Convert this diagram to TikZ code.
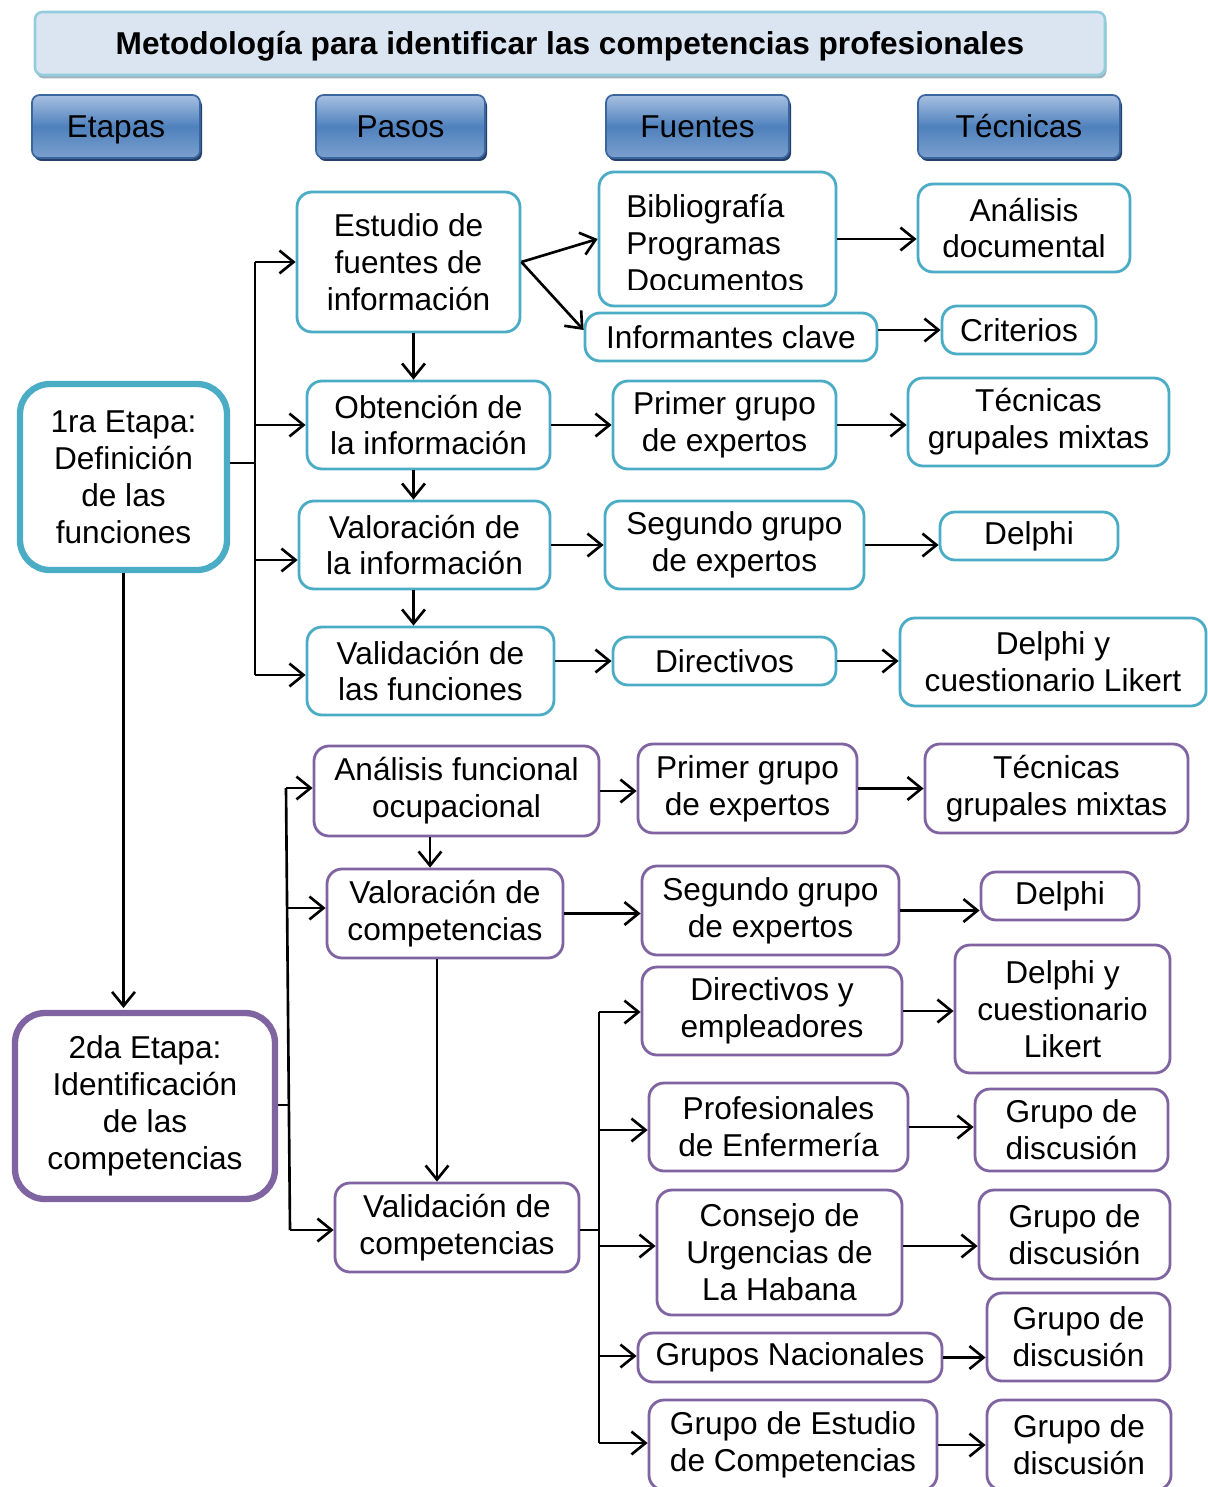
\documentclass[tikz,border=0pt]{standalone}
\usepackage{fontspec}
\setmainfont{Liberation Sans}
\usepackage{tikz}
\usetikzlibrary{arrows.meta,shadows}

\definecolor{cian}{HTML}{4BACC6}
\definecolor{morado}{HTML}{8064A2}
\definecolor{azulclaro}{HTML}{DBE5F1}
\definecolor{bordetitulo}{HTML}{93CDDD}
\definecolor{sombratitulo}{HTML}{9DB3BD}
\definecolor{azulboton}{HTML}{4F81BD}
\definecolor{azulbotonclaro}{HTML}{A7C0E0}
\definecolor{bordeboton}{HTML}{3A66A0}
\definecolor{sombraboton}{HTML}{25406A}

\begin{document}
\begin{tikzpicture}[x=0.02cm, y=-0.02cm,
    font=\fontsize{18}{21}\selectfont,
    tam/.style 2 args={minimum width=#1*0.02cm, minimum height=#2*0.02cm},
    caja/.style={draw=#1, line width=1.6pt, rounded corners=0.3cm, fill=white, align=center, inner sep=0pt},
    etapa/.style={caja=#1, line width=3.6pt, rounded corners=0.6cm},
    titulo/.style={draw=bordetitulo, line width=1.5pt, fill=azulclaro, rounded corners=0.15cm,
        text height=15pt, text depth=2.5pt,
        drop shadow={shadow xshift=0.03cm, shadow yshift=-0.07cm, fill=sombratitulo, opacity=1}},
    boton/.style={draw=bordeboton, line width=1pt, rounded corners=0.15cm,
        text height=15pt, text depth=2pt,
        top color=azulbotonclaro, bottom color=azulboton!75!white, middle color=azulboton,
        drop shadow={shadow xshift=0.04cm, shadow yshift=-0.06cm, fill=sombraboton, opacity=1}},
    linea/.style={line width=1.5pt},
    flecha/.style={linea, -{Straight Barb[length=8pt,width=13pt]}}]

    \useasboundingbox (0,0) rectangle (1207,1487);

    % Titulo y cabeceras
    \node[titulo, tam={1070}{63}] (tit) at (570,43.5) {\bfseries Metodología para identificar las competencias profesionales};
    \node[boton, tam={168}{63}] (etapas) at (116,126.5) {Etapas};
    \node[boton, tam={169}{63}] (pasos) at (400.5,126.5) {Pasos};
    \node[boton, tam={183}{63}] (fuentes) at (697.5,126.5) {Fuentes};
    \node[boton, tam={202}{63}] (tecnicas) at (1019,126.5) {Técnicas};

    % Primera etapa
    \node[etapa=cian, tam={207}{186}] (e1) at (123.5,477) {1ra Etapa:\\Definición\\de las\\funciones};
    \node[caja=cian, tam={223}{140}] (p1) at (408.5,262) {Estudio de\\fuentes de\\información};
    \node[caja=cian, tam={243}{88}] (p2) at (428.5,425) {Obtención de\\la información};
    \node[caja=cian, tam={251}{88}] (p3) at (424.5,545) {Valoración de\\la información};
    \node[caja=cian, tam={247}{88}] (p4) at (430.5,671) {Validación de\\las funciones};

    \node[caja=cian, tam={237}{134}] (f1) at (717.5,239) {};
    \begin{scope}
        \clip (600,173) rectangle (835,289);
        \node[anchor=west, align=left, inner sep=0pt] (f1texto) at (626,243) {Bibliografía\\Programas\\Documentos};
    \end{scope}
    \node[caja=cian, tam={292}{48}] (f2) at (731,337) {Informantes clave};
    \node[caja=cian, tam={223}{88}] (f3) at (724.5,425) {Primer grupo\\de expertos};
    \node[caja=cian, tam={259}{88}] (f4) at (734.5,545) {Segundo grupo\\de expertos};
    \node[caja=cian, tam={223}{48}] (f5) at (724.5,661) {Directivos};

    \node[caja=cian, tam={212}{88}] (t1) at (1024,228) {Análisis\\documental};
    \node[caja=cian, tam={154}{48}] (t2) at (1019,330) {Criterios};
    \node[caja=cian, tam={261}{88}] (t3) at (1038.5,422) {Técnicas\\grupales mixtas};
    \node[caja=cian, tam={178}{48}] (t4) at (1029,536) {Delphi};
    \node[caja=cian, tam={306}{88}] (t5) at (1053,662) {Delphi y\\cuestionario Likert};

    % Conectores primera etapa
    \coordinate (a0) at (255,463);
    \coordinate (a1) at (255,262);
    \coordinate (a2) at (255,425);
    \coordinate (a3) at (255,560);
    \coordinate (a4) at (255,675);
    \draw[linea] (e1.east |- a0) -- (a0);
    \draw[linea] (a1) -- (a4);
    \draw[flecha] (a1) -- (p1.west);
    \draw[flecha] (a2) -- (p2.west);
    \draw[flecha] (a3) -- (p3.west |- a3);
    \draw[flecha] (a4) -- (p4.west |- a4);
    \draw[flecha] ([xshift=0.1cm]p1.south) -- ([xshift=0.1cm]p2.north -| p1.south);
    \draw[flecha] ([xshift=0.1cm]p2.south -| p1.south) -- ([xshift=0.1cm]p3.north -| p1.south);
    \draw[flecha] ([xshift=0.1cm]p3.south -| p1.south) -- ([xshift=0.1cm]p4.north -| p1.south);
    \draw[flecha] (p1.east) -- (f1.west);
    \draw[flecha] (p1.east) -- ([yshift=0.14cm]f2.west);
    \draw[flecha] (f1.east) -- (t1.west |- f1.east);
    \draw[flecha] (f2.east |- t2.west) -- (t2.west);
    \draw[flecha] (p2.east) -- (f3.west);
    \draw[flecha] (f3.east) -- (t3.west |- f3.east);
    \draw[flecha] (p3.east) -- (f4.west);
    \draw[flecha] (f4.east) -- (t4.west |- f4.east);
    \draw[flecha] (p4.east |- f5.east) -- (f5.west);
    \draw[flecha] (f5.east) -- (t5.west |- f5.east);
    \draw[flecha] (e1.south) -- (e1.south |- 0,1008);

    % Segunda etapa
    \node[etapa=morado, tam={260}{186}] (e2) at (145,1106) {2da Etapa:\\Identificación\\de las\\competencias};
    \node[caja=morado, tam={285}{90}] (q1) at (456.5,791) {Análisis funcional\\ocupacional};
    \node[caja=morado, tam={236}{89}] (q2) at (445,913.5) {Valoración de\\competencias};
    \node[caja=morado, tam={244}{89}] (q3) at (457,1227.5) {Validación de\\competencias};

    \node[caja=morado, tam={219}{89}] (g1) at (747.5,788.5) {Primer grupo\\de expertos};
    \node[caja=morado, tam={257}{89}] (g2) at (770.5,910.5) {Segundo grupo\\de expertos};
    \node[caja=morado, tam={260}{88}] (g3) at (772,1011) {Directivos y\\empleadores};
    \node[caja=morado, tam={259}{88}] (g4) at (778.5,1127) {Profesionales\\de Enfermería};
    \node[caja=morado, tam={245}{125}] (g5) at (779.5,1252.5) {Consejo de\\Urgencias de\\La Habana};
    \node[caja=morado, tam={304}{49}] (g6) at (790,1357.5) {Grupos Nacionales};
    \node[caja=morado, tam={288}{90}] (g7) at (793,1445) {Grupo de Estudio\\de Competencias};

    \node[caja=morado, tam={263}{89}] (u1) at (1056.5,788.5) {Técnicas\\grupales mixtas};
    \node[caja=morado, tam={158}{48}] (u2) at (1060,896) {Delphi};
    \node[caja=morado, tam={215}{128}] (u3) at (1062.5,1009) {Delphi y\\cuestionario\\Likert};
    \node[caja=morado, tam={193}{82}] (u4) at (1071.5,1130) {Grupo de\\discusión};
    \node[caja=morado, tam={191}{89}] (u5) at (1074.5,1234.5) {Grupo de\\discusión};
    \node[caja=morado, tam={183}{88}] (u6) at (1078.5,1337) {Grupo de\\discusión};
    \node[caja=morado, tam={184}{90}] (u7) at (1079,1445) {Grupo de\\discusión};

    % Conectores segunda etapa
    \coordinate (b0) at (288,1105);
    \coordinate (b1) at (286,788);
    \coordinate (b2) at (287,908);
    \coordinate (b3) at (290,1230);
    \draw[linea] (e2.east |- b0) -- (b0);
    \draw[linea] (b1) -- (b3);
    \draw[flecha] (b1) -- (q1.west |- b1);
    \draw[flecha] (b2) -- (q2.west |- b2);
    \draw[flecha] (b3) -- (q3.west |- b3);
    \draw[flecha] ([xshift=-0.3cm]q2.north |- q1.south) -- ([xshift=-0.3cm]q2.north);
    \draw[flecha] ([xshift=-0.16cm]q2.south) -- ([xshift=-0.16cm]q2.south |- q3.north);
    \draw[flecha] (q1.east) -- (g1.west |- q1.east);
    \draw[flecha] (g1.east) -- (u1.west);
    \draw[flecha] (q2.east) -- (g2.west |- q2.east);
    \draw[flecha] (g2.east) -- (u2.west |- g2.east);

    \coordinate (c0) at (599,1230);
    \coordinate (c3) at (599,1012);
    \coordinate (c4) at (599,1130);
    \coordinate (c5) at (599,1246);
    \coordinate (c6) at (599,1356);
    \coordinate (c7) at (599,1443);
    \draw[linea] (q3.east |- c0) -- (c0);
    \draw[linea] (c3) -- (c7);
    \draw[flecha] (c3) -- (g3.west |- c3);
    \draw[flecha] (c4) -- (g4.west |- c4);
    \draw[flecha] (c5) -- (g5.west |- c5);
    \draw[flecha] (c6) -- (g6.west |- c6);
    \draw[flecha] (c7) -- (g7.west |- c7);
    \draw[flecha] (g3.east) -- (u3.west |- g3.east);
    \draw[flecha] (g4.east) -- (u4.west |- g4.east);
    \draw[flecha] (g5.east |- c5) -- (u5.west |- c5);
    \draw[flecha] (g6.east) -- (u6.west |- g6.east);
    \draw[flecha] (g7.east) -- (u7.west |- g7.east);
\end{tikzpicture}
\end{document}
